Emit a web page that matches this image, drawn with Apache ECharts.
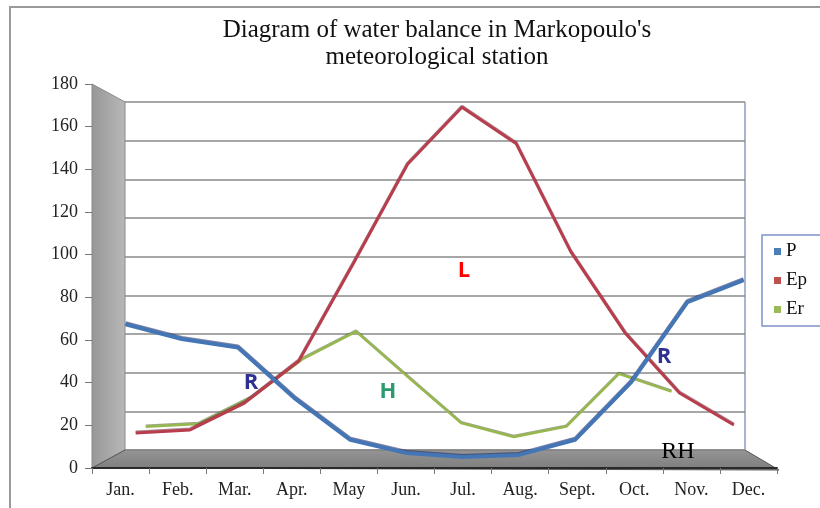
<!DOCTYPE html>
<html>
<head>
<meta charset="utf-8">
<title>Water balance – Markopoulo</title>
<script src="https://cdn.jsdelivr.net/npm/echarts@6/dist/echarts.min.js"></script>
<style>
  html, body { margin: 0; padding: 0; background: #fff; }
  #chart { width: 820px; height: 508px; }
</style>
</head>
<body>
<div id="chart"></div>
<script>
// months on the category axis
const months = ['Jan.', 'Feb.', 'Mar.', 'Apr.', 'May', 'Jun.', 'Jul.', 'Aug.', 'Sept.', 'Oct.', 'Nov.', 'Dec.']
// precipitation P, potential evapotranspiration Ep, real evapotranspiration Er (mm)
const pValues = [67, 60, 56, 32, 12, 5.7, 3.8, 4.8, 12, 39.5, 77.6, 88]
const epValues = [12.8, 14.3, 27.5, 48.2, 96, 145, 173, 155, 102, 62, 32.5, 16.7]
const erValues = [13.4, 14.7, 28, 48, 61.7, 38.3, 15.2, 8.1, 13.4, 40.2, 31.2, null]
const yMin = 0
const yMax = 180
const yStep = 20

const serif = 'Liberation Serif'
const chart = echarts.init(document.getElementById('chart'))

// the 3d box: front plane, back wall, and one plane per series depth
const front = { x0: 92, x1: 777, top: 84, bottom: 468 }
const back = { x0: 125, x1: 745, top: 102, bottom: 450 }
const depth = t => {
  const x0 = front.x0 + (back.x0 - front.x0) * t
  const x1 = front.x1 + (back.x1 - front.x1) * t
  const top = front.top + (back.top - front.top) * t
  const bottom = front.bottom + (back.bottom - front.bottom) * t
  return { left: x0, top: top, width: x1 - x0, height: bottom - top }
}

const hiddenX = gi => ({
  type: 'category', gridIndex: gi, data: months, show: false, boundaryGap: true
})
const hiddenY = gi => ({
  type: 'value', gridIndex: gi, min: yMin, max: yMax, interval: yStep, show: false
})

const option = {
  animation: false,
  title: {
    text: "Diagram of water balance in Markopoulo's\nmeteorological station",
    left: 432,
    top: 12,
    textAlign: 'center',
    textStyle: { fontFamily: serif, fontSize: 25, fontWeight: 'normal', color: '#111', lineHeight: 27 }
  },
  legend: {
    data: ['P', 'Ep', 'Er'],
    orient: 'vertical',
    left: 762,
    top: 235,
    icon: 'rect',
    itemWidth: 7,
    itemHeight: 7,
    itemGap: 10,
    padding: [7, 40, 7, 12],
    borderColor: '#7f93c9',
    borderWidth: 1.5,
    textStyle: { fontFamily: serif, fontSize: 19, color: '#111' }
  },
  grid: [
    { left: front.x0, top: front.top, width: front.x1 - front.x0, height: front.bottom - front.top },
    { left: back.x0, top: back.top, width: back.x1 - back.x0, height: back.bottom - back.top },
    depth(1 / 6),
    depth(1 / 2),
    depth(5 / 6)
  ],
  xAxis: [
    {
      type: 'category',
      gridIndex: 0,
      data: months,
      boundaryGap: true,
      axisLine: { show: true, lineStyle: { color: '#2a2a2a', width: 2 } },
      axisTick: { show: true, length: 6, lineStyle: { color: '#777' } },
      axisLabel: { fontFamily: serif, fontSize: 18, color: '#222', margin: 13 }
    },
    hiddenX(1),
    hiddenX(2),
    hiddenX(3),
    hiddenX(4)
  ],
  yAxis: [
    {
      type: 'value',
      gridIndex: 0,
      min: yMin,
      max: yMax,
      interval: yStep,
      axisLine: { show: false },
      axisTick: { show: true, length: 7, lineStyle: { color: '#777' } },
      splitLine: { show: false },
      axisLabel: { fontFamily: serif, fontSize: 18, color: '#222', margin: 14 }
    },
    {
      type: 'value',
      gridIndex: 1,
      min: yMin,
      max: yMax,
      interval: yStep,
      axisLine: { show: false },
      axisTick: { show: false },
      axisLabel: { show: false },
      splitLine: { show: true, lineStyle: { color: '#8a8a8a', width: 1.5 } }
    },
    hiddenY(2),
    hiddenY(3),
    hiddenY(4)
  ],
  series: [
    {
      name: 'P', type: 'line', data: pValues, xAxisIndex: 2, yAxisIndex: 2,
      showSymbol: false, z: 5,
      itemStyle: { color: '#4a7ebb' },
      lineStyle: { color: '#4476b6', width: 4, shadowColor: 'rgba(20,30,90,0.55)', shadowOffsetY: -1 }
    },
    {
      name: 'Ep', type: 'line', data: epValues, xAxisIndex: 3, yAxisIndex: 3,
      showSymbol: false, z: 4,
      itemStyle: { color: '#c0504d' },
      lineStyle: { color: '#b83e4e', width: 3, shadowColor: 'rgba(90,20,40,0.5)', shadowOffsetY: -1 }
    },
    {
      name: 'Er', type: 'line', data: erValues, xAxisIndex: 4, yAxisIndex: 4,
      showSymbol: false, z: 3,
      itemStyle: { color: '#9bbb59' },
      lineStyle: { color: '#98b84e', width: 2.5, shadowColor: 'rgba(60,80,20,0.5)', shadowOffsetY: -1 }
    }
  ],
  graphic: [
    // outer frame (left + top)
    {
      type: 'polyline', z: -20, silent: true,
      shape: { points: [[10, 508], [10, 7], [820, 7]] },
      style: { stroke: '#9a9a9a', lineWidth: 2, fill: null }
    },
    // left side wall
    {
      type: 'polygon', z: -10, silent: true,
      shape: { points: [[front.x0, front.top], [back.x0, back.top], [back.x0, back.bottom], [front.x0, front.bottom]] },
      style: {
        fill: new echarts.graphic.LinearGradient(0, 0, 1, 0, [
          { offset: 0, color: '#979797' },
          { offset: 1, color: '#b8b8b8' }
        ]),
        stroke: '#888', lineWidth: 1
      }
    },
    // floor
    {
      type: 'polygon', z: -10, silent: true,
      shape: { points: [[front.x0, front.bottom], [back.x0, back.bottom], [back.x1, back.bottom], [front.x1 + 2, front.bottom + 2]] },
      style: {
        fill: new echarts.graphic.LinearGradient(0, 0, 0, 1, [
          { offset: 0, color: '#959595' },
          { offset: 1, color: '#7c7c7c' }
        ]),
        stroke: '#555', lineWidth: 1
      }
    },
    // back wall right edge
    {
      type: 'line', z: -5, silent: true,
      shape: { x1: back.x1, y1: back.top, x2: back.x1, y2: back.bottom },
      style: { stroke: '#8c9bc2', lineWidth: 1.5 }
    },
    // region annotations
    {
      type: 'text', z: 100, silent: true, x: 251, y: 383,
      style: { text: 'R', fill: '#2e3192', font: 'bold 22px "Open Sans"', align: 'center', verticalAlign: 'middle' }
    },
    {
      type: 'text', z: 100, silent: true, x: 664, y: 357,
      style: { text: 'R', fill: '#2e3192', font: 'bold 22px "Open Sans"', align: 'center', verticalAlign: 'middle' }
    },
    {
      type: 'text', z: 100, silent: true, x: 464, y: 271,
      style: { text: 'L', fill: '#ff0000', font: 'bold 22px "Open Sans"', align: 'center', verticalAlign: 'middle' }
    },
    {
      type: 'text', z: 100, silent: true, x: 388, y: 392,
      style: { text: 'H', fill: '#2b9a6c', font: 'bold 22px "Open Sans"', align: 'center', verticalAlign: 'middle' }
    },
    {
      type: 'text', z: 100, silent: true, x: 678, y: 452,
      style: { text: 'RH', fill: '#000', font: '24px "Liberation Serif"', align: 'center', verticalAlign: 'middle' }
    }
  ]
}

chart.setOption(option)
</script>
</body>
</html>
